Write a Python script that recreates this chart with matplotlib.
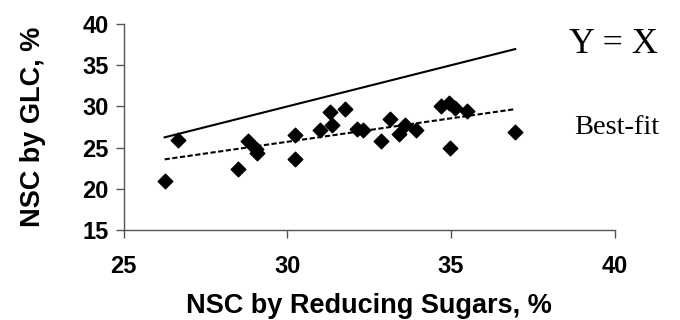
import matplotlib
matplotlib.use("Agg")
import matplotlib.pyplot as plt
import numpy as np

# NSC by reducing sugars (x) vs NSC by GLC (y), %
rs = [26.25, 26.66, 28.5, 28.8, 29.04, 29.08, 30.23, 30.23, 31.0, 31.3,
      31.35, 31.76, 32.13, 32.3, 32.85, 33.13, 33.4, 33.6, 33.93, 34.68,
      34.95, 35.12, 34.97, 35.5, 36.96]
glc = [21.0, 25.9, 22.4, 25.8, 24.8, 24.3, 26.5, 23.6, 27.2, 29.3,
       27.7, 29.7, 27.3, 27.2, 25.8, 28.5, 26.6, 27.7, 27.2, 30.1,
       30.4, 29.8, 24.9, 29.4, 26.9]
x_ticks = [25, 30, 35, 40]
y_ticks = [15, 20, 25, 30, 35, 40]

fig = plt.figure(figsize=(6.8, 3.2), dpi=100)
ax = fig.add_axes([0.182, 0.281, 0.722, 0.644])

x = np.array(rs)
y = np.array(glc)
xl = np.array([x.min(), x.max()])

# Y = X line
ax.plot(xl, xl, color='black', lw=1.5)

# best-fit line
b, a = np.polyfit(x, y, 1)
ax.plot(xl, a + b * xl, color='black', lw=1.5, ls=(0, (2.5, 1.2)))

ax.scatter(x, y, marker='D', s=55, color='black', zorder=3)

ax.set_xlim(25, 40)
ax.set_ylim(15, 40)
ax.set_xticks(x_ticks)
ax.set_yticks(y_ticks)
for s in ['top', 'right']:
    ax.spines[s].set_visible(False)
for s in ['left', 'bottom']:
    ax.spines[s].set_color('#555555')
    ax.spines[s].set_linewidth(1.0)
ax.tick_params(direction='out', length=6, width=1, color='#555555',
               labelsize=17, pad=5)
ax.tick_params(axis='x', pad=12)
for lab in ax.get_xticklabels() + ax.get_yticklabels():
    lab.set_fontweight('bold')
    lab.set_family('Liberation Sans')

ax.set_xlabel('NSC by Reducing Sugars, %', fontsize=19.5, fontweight='bold',
              family='Liberation Sans', labelpad=11)
ax.set_ylabel('NSC by GLC, %', fontsize=19.5, fontweight='bold',
              family='Liberation Sans', labelpad=26)

fig.text(0.837, 0.86, 'Y = X', fontsize=26, family='Liberation Serif',
         ha='left', va='center')
fig.text(0.844, 0.6, 'Best-fit', fontsize=20.5, family='Liberation Serif',
         ha='left', va='center')

fig.savefig('out.png', dpi=100)
